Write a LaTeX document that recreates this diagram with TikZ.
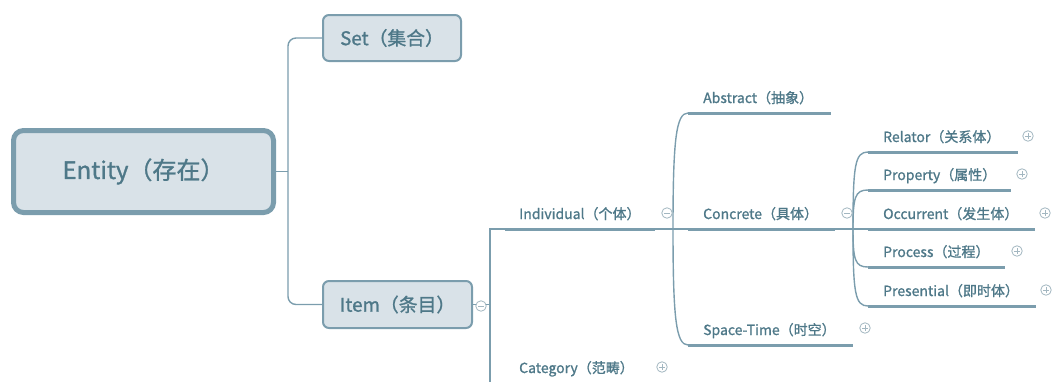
\documentclass[tikz,border=0pt]{standalone}
\usepackage{fontspec}
\usetikzlibrary{calc}
\setmainfont{Noto Sans CJK SC}[FakeBold=1.1]
\definecolor{ln}{HTML}{7B9DAD}
\definecolor{fl}{HTML}{D9E2E8}
\definecolor{tx}{HTML}{4E7888}
\definecolor{ic}{HTML}{A3B7C1}
\begin{document}
\begin{tikzpicture}[x=1pt,y=-1pt,
  conn/.style={draw=ln, line width=1.4pt},
  uline/.style={draw=ln, line width=3pt},
  rootbox/.style={draw=ln, fill=fl, line width=5pt, rounded corners=10pt, text=tx,
    font=\fontsize{24}{28}\selectfont, inner sep=0pt, outer sep=0pt},
  subbox/.style={draw=ln, fill=fl, line width=2pt, rounded corners=6pt, text=tx,
    font=\fontsize{18.8}{22}\selectfont, inner sep=0pt, outer sep=0pt},
  lbl/.style={anchor=base west, text=tx, font=\fontsize{14}{16}\selectfont, inner sep=0pt},
  icon/.style={circle, draw=ic, fill=white, line width=0.8pt, minimum size=10.5pt, inner sep=0pt},
  plusic/.style={icon, path picture={
    \draw[ic, line width=0.8pt] ([xshift=-2.6pt]path picture bounding box.center) -- ([xshift=2.6pt]path picture bounding box.center);
    \draw[ic, line width=0.8pt] ([yshift=-2.6pt]path picture bounding box.center) -- ([yshift=2.6pt]path picture bounding box.center);}},
  minusic/.style={icon, path picture={
    \draw[ic, line width=0.8pt] ([xshift=-2.6pt]path picture bounding box.center) -- ([xshift=2.6pt]path picture bounding box.center);}}
]
\useasboundingbox (0,0) rectangle (1054,381);
\clip (0,0) rectangle (1054,381);

% main boxes
\node[rootbox, minimum width=260pt, minimum height=82pt] (entity) at (143.5,171.5) {Entity（存在）};
\node[subbox, minimum width=138pt, minimum height=46pt] (set) at (392,38) {Set（集合）};
\node[subbox, minimum width=149pt, minimum height=47pt] (item) at (397.5,304.5) {Item（条目）};

\coordinate (jroot) at (288,171.5);
\draw[conn] (entity.east) -- (jroot);
\draw[conn, rounded corners=8pt] (set.west) -| (jroot) |- (item.west);

% underline coordinates
\coordinate (ind-s) at (505,229); \coordinate (ind-e) at (655,229);
\coordinate (cat-s) at (505,384); \coordinate (cat-e) at (650,384);
\coordinate (abs-s) at (688,113); \coordinate (abs-e) at (831,113);
\coordinate (con-s) at (688,229); \coordinate (con-e) at (835,229);
\coordinate (spt-s) at (688,345); \coordinate (spt-e) at (853,345);
\coordinate (rel-s) at (868,152); \coordinate (rel-e) at (1018,152);
\coordinate (pro-s) at (868,190); \coordinate (pro-e) at (1011,190);
\coordinate (occ-s) at (868,229); \coordinate (occ-e) at (1035,229);
\coordinate (prc-s) at (868,267); \coordinate (prc-e) at (1005,267);
\coordinate (pre-s) at (868,306); \coordinate (pre-e) at (1036,306);
\coordinate (jitem) at (490,304.5);
\coordinate (jind) at (673,229);
\coordinate (jcon) at (853,229);

% item branch
\draw[conn] (item.east) -- (jitem);
\draw[conn] (ind-s) -- ++(-15,0) -- (cat-s -| jitem) -- (cat-s);

% individual branch
\draw[conn] (ind-e) -- (con-s);
\draw[conn] (jind) .. controls (673,140) and (676,113) .. (abs-s);
\draw[conn] (jind) .. controls (673,318) and (676,345) .. (spt-s);

% concrete branch
\draw[conn] (con-e) -- (occ-s);
\draw[conn] (jcon) .. controls (853,165) and (855,152) .. (rel-s);
\draw[conn] (jcon) .. controls (853,197) and (855,190) .. (pro-s);
\draw[conn] (jcon) .. controls (853,260) and (855,267) .. (prc-s);
\draw[conn] (jcon) .. controls (853,293) and (855,306) .. (pre-s);

% underlines
\foreach \a in {ind,cat,abs,con,spt,rel,pro,occ,prc,pre}
  \draw[uline] (\a-s) -- (\a-e);

% labels
\node[lbl] (ind) at ($(ind-s)+(14,-10)$) {Individual（个体）};
\node[lbl] (cat) at (519,373) {Category（范畴）};
\node[lbl] (abs) at ($(abs-s)+(15,-10)$) {Abstract（抽象）};
\node[lbl] (con) at ($(con-s)+(15,-10)$) {Concrete（具体）};
\node[lbl] (spt) at ($(spt-s)+(15,-10)$) {Space-Time（时空）};
\node[lbl] (rel) at ($(rel-s)+(15,-10)$) {Relator（关系体）};
\node[lbl] (pro) at ($(pro-s)+(15,-10)$) {Property（属性）};
\node[lbl] (occ) at ($(occ-s)+(15,-10)$) {Occurrent（发生体）};
\node[lbl] (prc) at ($(prc-s)+(15,-10)$) {Process（过程）};
\node[lbl] (pre) at ($(pre-s)+(15,-10)$) {Presential（即时体）};

% icons
\node[minusic] (i-item) at (481,306) {};
\node[minusic] (i-ind) at (667,213) {};
\node[plusic] (i-cat) at (662,367) {};
\node[minusic] (i-con) at (847,213) {};
\node[plusic] (i-spt) at (865,328) {};
\node[plusic] (i-rel) at (1028,136) {};
\node[plusic] (i-pro) at (1022,174) {};
\node[plusic] (i-occ) at (1045,213) {};
\node[plusic] (i-prc) at (1017,251) {};
\node[plusic] (i-pre) at (1046,290) {};
\end{tikzpicture}
\end{document}
